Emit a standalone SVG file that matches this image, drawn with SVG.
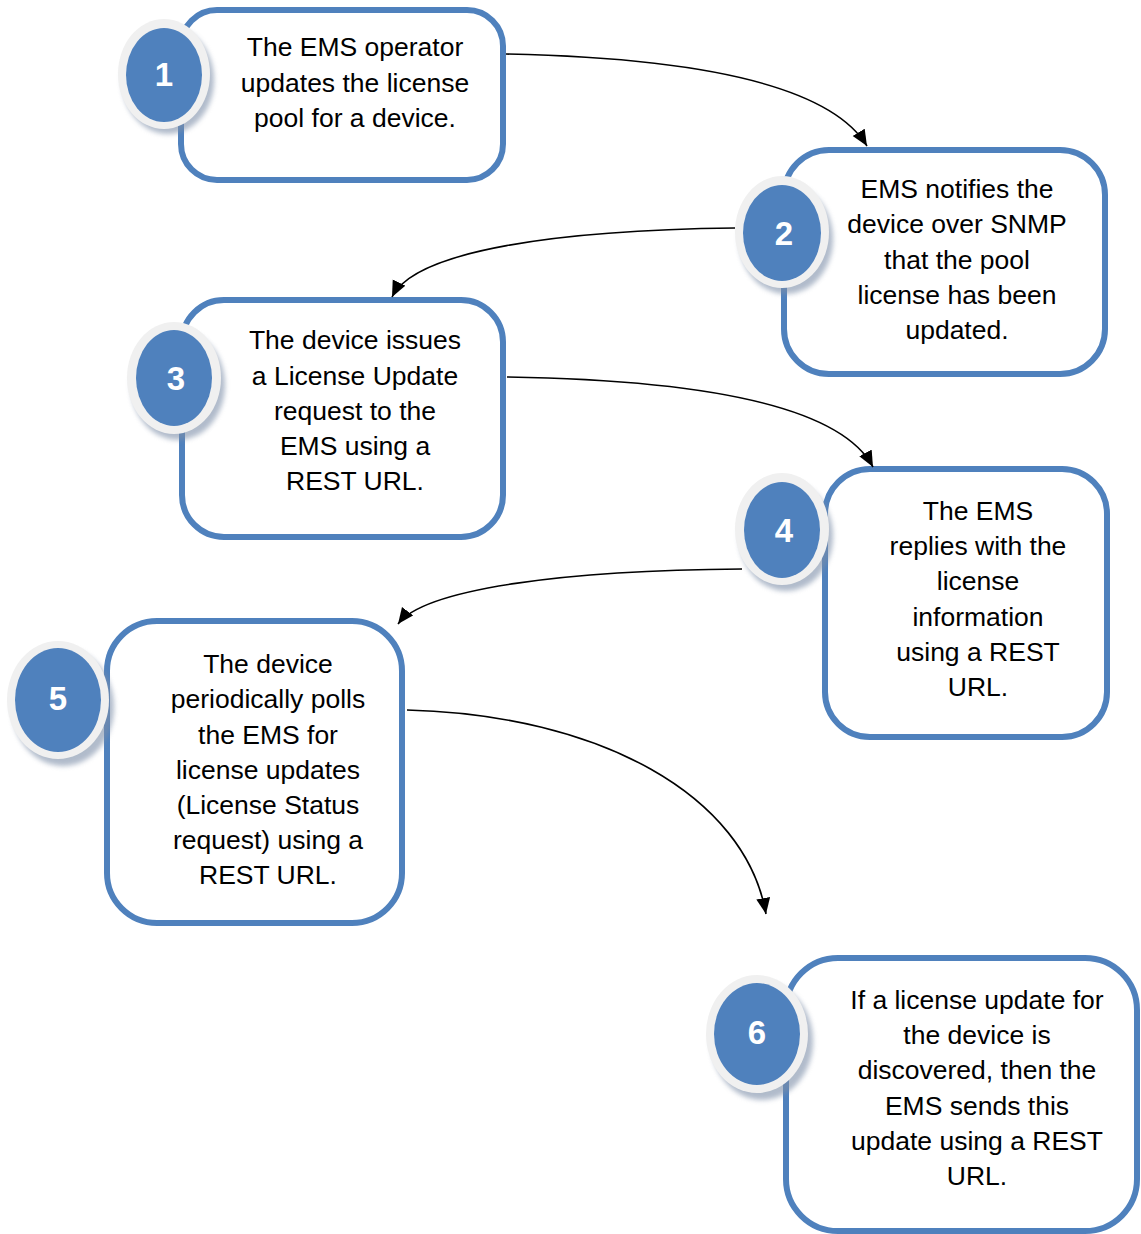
<svg xmlns="http://www.w3.org/2000/svg" width="1141" height="1234" viewBox="0 0 1141 1234">
<defs>
<style>
.box{fill:#ffffff;stroke:#4f81bd;stroke-width:6}
.ring{fill:#f0f0f0}
.shadow{fill:#7d8ea8;opacity:0.6}
.dot{fill:#4f81bd}
.num{font-family:"Liberation Sans",Arial,sans-serif;font-weight:bold;font-size:33px;fill:#ffffff;text-anchor:middle}
.txt{font-family:"Liberation Sans",Arial,sans-serif;font-size:26.5px;fill:#000000;text-anchor:middle}
.conn{fill:none;stroke:#000000;stroke-width:1.6}
</style>
<filter id="blur" x="-30%" y="-30%" width="160%" height="160%"><feGaussianBlur stdDeviation="2.5"/></filter>
<marker id="arr" markerUnits="userSpaceOnUse" markerWidth="18" markerHeight="16" refX="16" refY="7" orient="auto">
<path d="M0,0 L16,7 L0,14 Z" fill="#000000"/>
</marker>
</defs>

<g id="node1">
<rect class="box" x="181" y="10" width="322" height="170" rx="36"/>
<ellipse class="shadow" cx="168" cy="80" rx="46" ry="54" filter="url(#blur)"/>
<ellipse class="ring" cx="164" cy="74" rx="46" ry="55"/>
<ellipse class="dot" cx="164" cy="75" rx="38" ry="47"/>
<text class="num" x="164" y="86">1</text>
<text class="txt" x="355" y="56">The EMS operator</text>
<text class="txt" x="355" y="91.5">updates the license</text>
<text class="txt" x="355" y="127">pool for a device.</text>
</g>

<g id="node2">
<rect class="box" x="784" y="150" width="321" height="224" rx="45"/>
<ellipse class="shadow" cx="786" cy="239" rx="47" ry="55" filter="url(#blur)"/>
<ellipse class="ring" cx="782" cy="232" rx="47" ry="56"/>
<ellipse class="dot" cx="782" cy="233" rx="39" ry="48"/>
<text class="num" x="784" y="245">2</text>
<text class="txt" x="957" y="198">EMS notifies the</text>
<text class="txt" x="957" y="233.3">device over SNMP</text>
<text class="txt" x="957" y="268.6">that the pool</text>
<text class="txt" x="957" y="304">license has been</text>
<text class="txt" x="957" y="339">updated.</text>
</g>

<g id="node3">
<rect class="box" x="182" y="300" width="321" height="237" rx="42"/>
<ellipse class="shadow" cx="178" cy="385" rx="47" ry="55" filter="url(#blur)"/>
<ellipse class="ring" cx="174" cy="378" rx="47" ry="56"/>
<ellipse class="dot" cx="174" cy="378" rx="38" ry="48"/>
<text class="num" x="176" y="390">3</text>
<text class="txt" x="355" y="349">The device issues</text>
<text class="txt" x="355" y="385">a License Update</text>
<text class="txt" x="355" y="420">request to the</text>
<text class="txt" x="355" y="455">EMS using a</text>
<text class="txt" x="355" y="490">REST URL.</text>
</g>

<g id="node4">
<rect class="box" x="825" y="469" width="282" height="268" rx="45"/>
<ellipse class="shadow" cx="786" cy="536" rx="47" ry="55" filter="url(#blur)"/>
<ellipse class="ring" cx="782" cy="529" rx="47" ry="56"/>
<ellipse class="dot" cx="782" cy="530" rx="38" ry="48"/>
<text class="num" x="784" y="542">4</text>
<text class="txt" x="978" y="520">The EMS</text>
<text class="txt" x="978" y="555">replies with the</text>
<text class="txt" x="978" y="590">license</text>
<text class="txt" x="978" y="626">information</text>
<text class="txt" x="978" y="661">using a REST</text>
<text class="txt" x="978" y="696">URL.</text>
</g>

<g id="node5">
<rect class="box" x="107" y="621" width="295" height="302" rx="50"/>
<ellipse class="shadow" cx="63" cy="707" rx="51" ry="59" filter="url(#blur)"/>
<ellipse class="ring" cx="58" cy="700" rx="51" ry="59"/>
<ellipse class="dot" cx="58" cy="700" rx="43" ry="52"/>
<text class="num" x="58" y="710">5</text>
<text class="txt" x="268" y="673">The device</text>
<text class="txt" x="268" y="708">periodically polls</text>
<text class="txt" x="268" y="744">the EMS for</text>
<text class="txt" x="268" y="779">license updates</text>
<text class="txt" x="268" y="814">(License Status</text>
<text class="txt" x="268" y="849">request) using a</text>
<text class="txt" x="268" y="884">REST URL.</text>
</g>

<g id="node6">
<rect class="box" x="786" y="958" width="351" height="273" rx="52"/>
<ellipse class="shadow" cx="762" cy="1041" rx="51" ry="59" filter="url(#blur)"/>
<ellipse class="ring" cx="757" cy="1034" rx="51" ry="59"/>
<ellipse class="dot" cx="757" cy="1034" rx="43" ry="51"/>
<text class="num" x="757" y="1044">6</text>
<text class="txt" x="977" y="1009">If a license update for</text>
<text class="txt" x="977" y="1044">the device is</text>
<text class="txt" x="977" y="1079">discovered, then the</text>
<text class="txt" x="977" y="1115">EMS sends this</text>
<text class="txt" x="977" y="1150">update using a REST</text>
<text class="txt" x="977" y="1185">URL.</text>
</g>

<g id="connectors">
<path class="conn" marker-end="url(#arr)" d="M506,54 C700,58 830,85 867,146"/>
<path class="conn" marker-end="url(#arr)" d="M735,228 C560,230 415,250 392,297"/>
<path class="conn" marker-end="url(#arr)" d="M507,377 C700,380 840,405 873,467"/>
<path class="conn" marker-end="url(#arr)" d="M742,569 C570,570 425,588 398,624"/>
<path class="conn" marker-end="url(#arr)" d="M407,710 C600,715 745,795 766,914"/>
</g>
</svg>
